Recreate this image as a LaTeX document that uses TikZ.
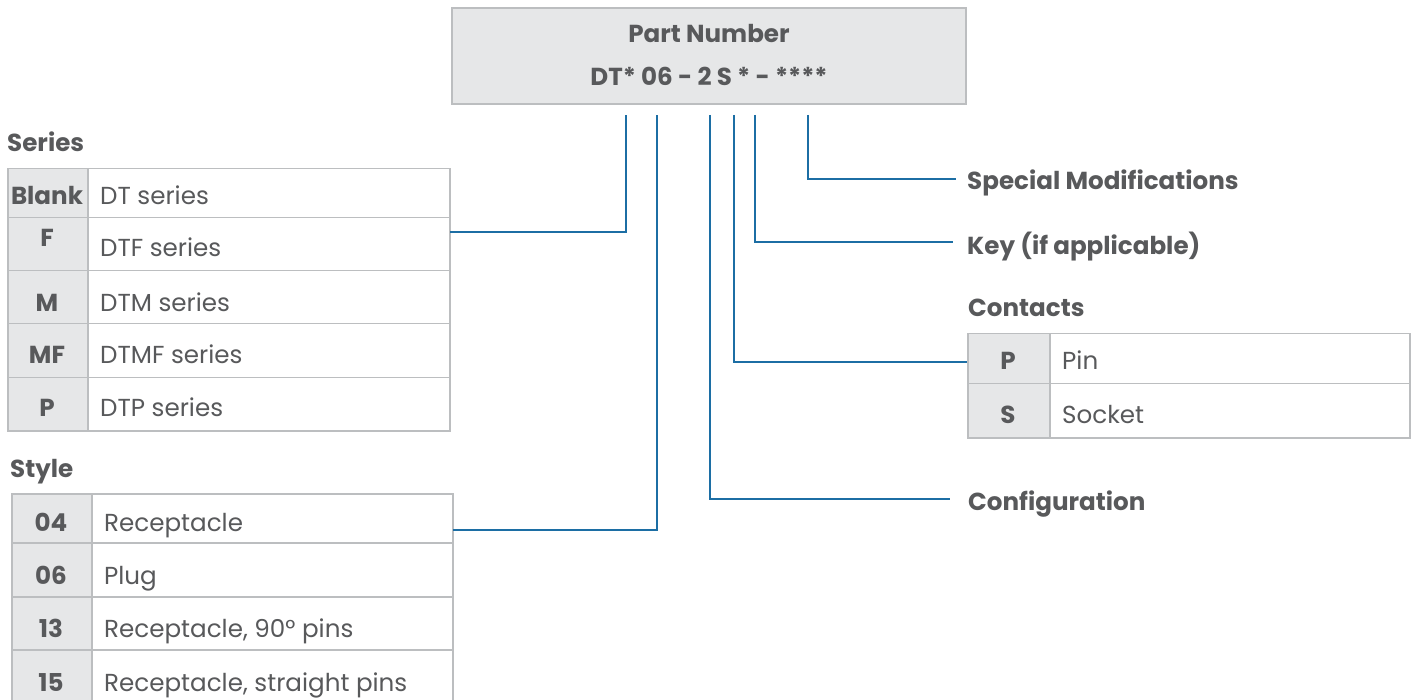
\documentclass[tikz,border=0pt]{standalone}
\usepackage{fontspec}
\setmainfont{Poppins}
\definecolor{txt}{HTML}{58595B}
\definecolor{cellgrey}{HTML}{E6E7E8}
\definecolor{rulegrey}{HTML}{BCBEC0}
\definecolor{blueline}{HTML}{1C6EA4}
\begin{document}
\begin{tikzpicture}[x=1pt,y=-1pt,
  every node/.style={inner sep=0pt, text=txt},
  keycell/.style={draw=rulegrey, fill=cellgrey, line width=1.5pt, anchor=north west},
  desccell/.style={draw=rulegrey, fill=white, line width=1.5pt, anchor=north west},
  keytext/.style={font=\fontsize{24.6}{28}\selectfont\bfseries, anchor=base},
  desctext/.style={font=\fontsize{24.6}{28}\selectfont, anchor=base west},
  heading/.style={font=\fontsize{24.6}{28}\selectfont\bfseries, anchor=base west},
  conn/.style={draw=blueline, line width=2pt}
]
\path[fill=white, use as bounding box] (0,0) rectangle (1411,700);

% Part number box
\node[draw=rulegrey, fill=cellgrey, line width=1.5pt, minimum width=514, minimum height=96] (pn) at (709,56) {};
\node[keytext] (pnt1) at (709,43) {Part Number};
\node[keytext] (pnt2) at (709,86) {DT* 06 - 2 S * - ****};

% Series table
\node[heading] (serh) at (7,152) {Series};
\node[keycell, minimum width=80, minimum height=49] (sk1) at (7,168) {};
\node[desccell, minimum width=362, minimum height=49] (sd1) at (87,168) {};
\node[keycell, minimum width=80, minimum height=53] (sk2) at (7,217) {};
\node[desccell, minimum width=362, minimum height=53] (sd2) at (87,217) {};
\node[keycell, minimum width=80, minimum height=53] (sk3) at (7,270) {};
\node[desccell, minimum width=362, minimum height=53] (sd3) at (87,270) {};
\node[keycell, minimum width=80, minimum height=54] (sk4) at (7,323) {};
\node[desccell, minimum width=362, minimum height=54] (sd4) at (87,323) {};
\node[keycell, minimum width=80, minimum height=53] (sk5) at (7,377) {};
\node[desccell, minimum width=362, minimum height=53] (sd5) at (87,377) {};
\node[keytext] (skt1) at (47,205) {Blank};
\node[desctext] (sdt1) at (100,205) {DT series};
\node[keytext] (skt2) at (47,247) {F};
\node[desctext] (sdt2) at (100,257) {DTF series};
\node[keytext] (skt3) at (47,312) {M};
\node[desctext] (sdt3) at (100,312) {DTM series};
\node[keytext] (skt4) at (47,364) {MF};
\node[desctext] (sdt4) at (100,364) {DTMF series};
\node[keytext] (skt5) at (47,417) {P};
\node[desctext] (sdt5) at (100,417) {DTP series};

% Style table
\node[heading] (styh) at (10,477) {Style};
\node[keycell, minimum width=80, minimum height=49] (yk1) at (11,493) {};
\node[desccell, minimum width=361, minimum height=49] (yd1) at (91,493) {};
\node[keycell, minimum width=80, minimum height=54] (yk2) at (11,542) {};
\node[desccell, minimum width=361, minimum height=54] (yd2) at (91,542) {};
\node[keycell, minimum width=80, minimum height=53] (yk3) at (11,596) {};
\node[desccell, minimum width=361, minimum height=53] (yd3) at (91,596) {};
\node[keycell, minimum width=80, minimum height=54] (yk4) at (11,649) {};
\node[desccell, minimum width=361, minimum height=54] (yd4) at (91,649) {};
\node[keytext] (ykt1) at (51,531) {04};
\node[desctext] (ydt1) at (104,531) {Receptacle};
\node[keytext] (ykt2) at (51,584) {06};
\node[desctext] (ydt2) at (104,584) {Plug};
\node[keytext] (ykt3) at (51,637) {13};
\node[desctext] (ydt3) at (104,637) {Receptacle, 90° pins};
\node[keytext] (ykt4) at (51,691) {15};
\node[desctext] (ydt4) at (104,691) {Receptacle, straight pins};

% Contacts table
\node[heading] (conh) at (968,317) {Contacts};
\node[keycell, minimum width=82, minimum height=50] (ck1) at (967,333) {};
\node[desccell, minimum width=360, minimum height=50] (cd1) at (1049,333) {};
\node[keycell, minimum width=82, minimum height=54] (ck2) at (967,383) {};
\node[desccell, minimum width=360, minimum height=54] (cd2) at (1049,383) {};
\node[keytext] (ckt1) at (1008,370) {P};
\node[desctext] (cdt1) at (1062,370) {Pin};
\node[keytext] (ckt2) at (1008,424) {S};
\node[desctext] (cdt2) at (1062,424) {Socket};

% Right labels
\node[heading] (spec) at (967,190) {Special Modifications};
\node[heading] (keyl) at (967,255) {Key (if applicable)};
\node[heading] (conf) at (968,510) {Configuration};

% Connector points
\coordinate (tA) at (626,115);
\coordinate (tB) at (657,115);
\coordinate (tC) at (710,115);
\coordinate (tD) at (734,115);
\coordinate (tE) at (755,115);
\coordinate (tF) at (808,115);
\coordinate (sOut) at (450,232);
\coordinate (yOut) at (453,530);
\coordinate (cEnd) at (950,499);
\coordinate (kEnd) at (953,242);
\coordinate (mEnd) at (956,179);

\draw[conn] (sOut) -| (tA);
\draw[conn] (yOut) -| (tB);
\draw[conn] (tC) |- (cEnd);
\draw[conn] (tD) |- ([yshift=-3pt]ck1.west);
\draw[conn] (tE) |- (kEnd);
\draw[conn] (tF) |- (mEnd);
\end{tikzpicture}
\end{document}
